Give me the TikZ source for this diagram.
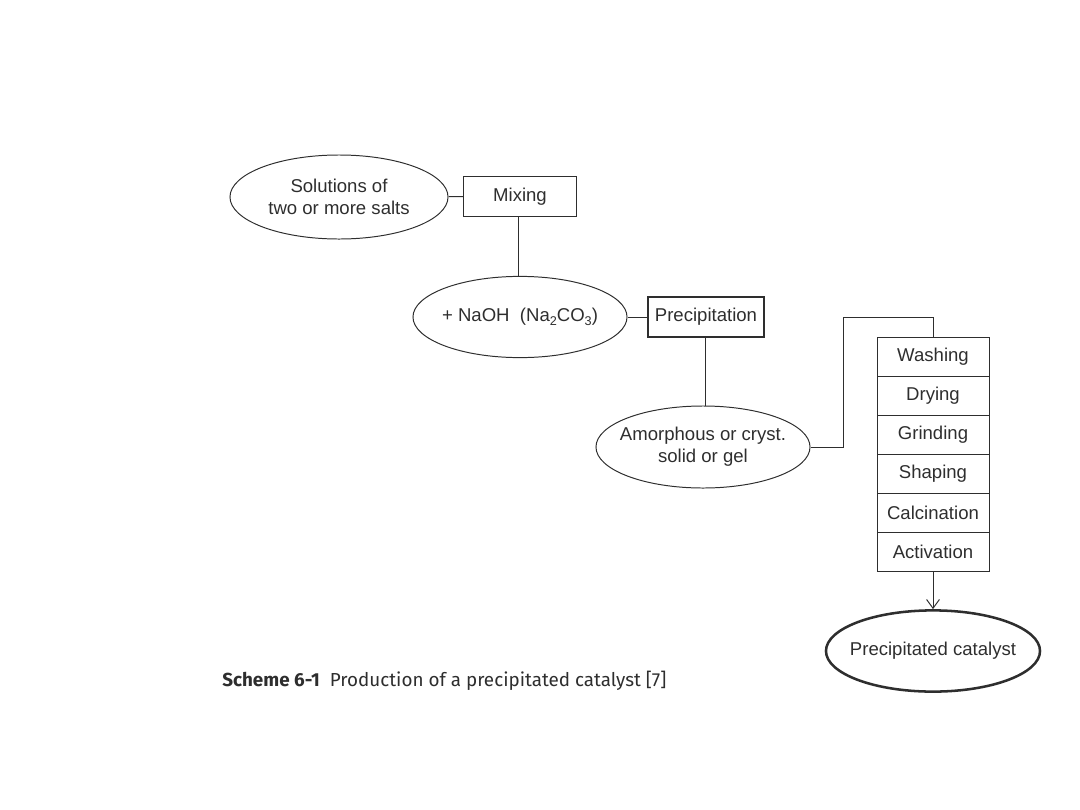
\documentclass[tikz,border=0pt]{standalone}
\usepackage{fontspec}
\setmainfont{Liberation Sans}
\newfontfamily\capfont{Fira Sans}
\usetikzlibrary{arrows.meta,positioning,shapes.geometric}
\definecolor{ink}{HTML}{2E2E2E}
\newcommand{\lowsub}[1]{\raisebox{-0.45ex}{\fontsize{9}{9}\selectfont #1}}

\begin{document}
\begin{tikzpicture}[
  x=0.025cm, y=-0.025cm,
  >={Straight Barb[length=2.2mm,width=3.2mm]},
  every node/.style={text=ink, font=\fontsize{13.2}{15.5}\selectfont},
  oval/.style={ellipse, draw=ink, line width=0.7pt, minimum width=5.35cm, minimum height=2.03cm, inner sep=-10pt, align=center},
  ovalb/.style={oval, line width=1.8pt},
  boxx/.style={rectangle, draw=ink, line width=0.7pt, minimum width=2.8cm, minimum height=0.98cm, inner sep=0pt},
  boxb/.style={boxx, line width=2pt, minimum width=2.9cm, minimum height=1cm},
  stepbox/.style={boxx, minimum height=0.975cm},
  link/.style={draw=ink, line width=0.7pt}]
  \useasboundingbox (0,0) rectangle (1080,810);
  \node[oval, minimum width=5.45cm, minimum height=2.1cm] (sol) at (339,197) {Solutions of\\two or more salts};
  \node[boxx] (mix) at (520,196.5) {Mixing};
  \node[oval] (naoh) at (520,317) {+ NaOH\ \ (Na\lowsub{2}CO\lowsub{3})};
  \node[boxb] (prec) at (706,317) {Precipitation};
  \node[oval, minimum height=2.05cm] (amor) at (703,447) {Amorphous or cryst.\\solid or gel};
  \foreach \s [count=\i] in {Washing,Drying,Grinding,Shaping,Calcination,Activation}
     \node[stepbox] (s\i) at (933,356.5+39*\i-39) {\s};
  \node[ovalb] (cat) at (933,651) {Precipitated catalyst};
  \coordinate (bend) at (843,317);
  \draw[link] (sol) -- (mix);
  \draw[link] (mix.south -| 518,0) -- (naoh.north -| 518,0);
  \draw[link] (naoh) -- (prec);
  \draw[link] (prec.south -| 705,0) -- (amor.north -| 705,0);
  \draw[link] (amor.east) -| (bend) -| (s1.north);
  \draw[link, ->] (s6.south) -- (cat.north);
  \node[anchor=west, inner sep=0pt, font=\capfont\fontsize{13.4}{16}\selectfont] (cap) at (222,681)
     {\textbf{Scheme 6-1}\ \ Production of a precipitated catalyst [7]};
\end{tikzpicture}
\end{document}
